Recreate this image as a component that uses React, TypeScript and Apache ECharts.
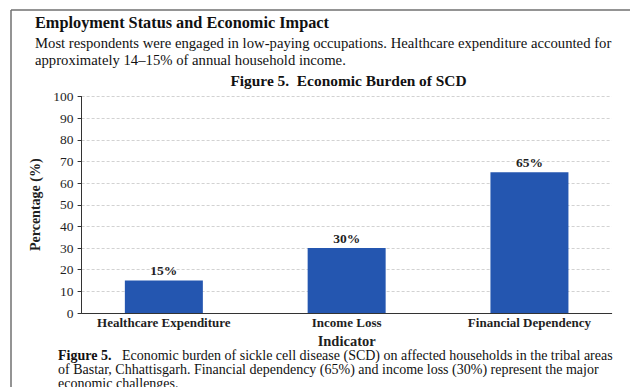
import React, { useEffect, useRef } from "react";
import * as echarts from "echarts";

// Economic burden indicators (percent of households)
const categories: string[] = ["Healthcare Expenditure", "Income Loss", "Financial Dependency"];
const percentages: number[] = [15, 30, 65];
const categoryPositions: number[] = [0, 1, 2];

const headingText = "Employment Status and Economic Impact";
const introLines: string[] = [
  "Most respondents were engaged in low-paying occupations. Healthcare expenditure accounted for",
  "approximately 14\u201315% of annual household income.",
];
const chartTitle = "Figure 5.  Economic Burden of SCD";
const captionLabel = "Figure 5.";
const captionLines: string[] = [
  "Economic burden of sickle cell disease (SCD) on affected households in the tribal areas",
  "of Bastar, Chhattisgarh. Financial dependency (65%) and income loss (30%) represent the major",
  "economic challenges.",
];

const SERIF = "Liberation Serif";
const INK = "#1f1f1f";
const BAR = "#2456b0";

const txt = (text: string, x: number, y: number, size: number, bold = false, align = "left") => ({
  type: "text",
  x,
  y,
  style: {
    text,
    fontFamily: SERIF,
    fontSize: size,
    fontWeight: bold ? "bold" : "normal",
    fill: "#111",
    textAlign: align,
    textVerticalAlign: "middle",
  },
});

export default function App() {
  const ref = useRef<HTMLDivElement>(null);

  useEffect(() => {
    if (!ref.current) return;
    const chart = echarts.init(ref.current, undefined, { renderer: "svg" });

    const option: echarts.EChartsCoreOption = {
      animation: false,
      backgroundColor: "#ffffff",
      grid: { left: 81.6, right: 18.3, top: 96.5, bottom: 74, containLabel: false },
      xAxis: {
        type: "value",
        min: -0.45,
        max: 2.45,
        name: "Indicator",
        nameLocation: "middle",
        nameGap: 11,
        nameTextStyle: { fontFamily: SERIF, fontWeight: "bold", fontSize: 14.5, color: INK },
        axisLine: { show: true, onZero: false, lineStyle: { color: "#333", width: 1 } },
        axisTick: { show: false },
        splitLine: { show: false },
        axisLabel: {
          customValues: categoryPositions,
          formatter: (v: number) => categories[Math.round(v)] ?? "",
          fontFamily: SERIF,
          fontWeight: "bold",
          fontSize: 13,
          color: INK,
          margin: 3,
        },
      },
      yAxis: {
        type: "value",
        min: 0,
        max: 100,
        interval: 10,
        name: "Percentage (%)",
        nameLocation: "middle",
        nameGap: 38,
        nameTextStyle: { fontFamily: SERIF, fontWeight: "bold", fontSize: 14, color: INK },
        axisLine: { show: true, onZero: false, lineStyle: { color: "#333", width: 1 } },
        axisTick: { show: true, length: 4, lineStyle: { color: "#333" } },
        splitLine: { show: true, lineStyle: { color: "#d2d2d2", type: [3, 2], width: 1 } },
        axisLabel: { fontFamily: SERIF, fontSize: 13.5, color: INK, margin: 8 },
      },
      series: [
        {
          type: "bar",
          barWidth: 78,
          data: percentages.map((v, i) => [categoryPositions[i], v]),
          itemStyle: { color: BAR },
          label: {
            show: true,
            position: "top",
            distance: 3,
            formatter: (p: any) => `${p.value[1]}%`,
            fontFamily: SERIF,
            fontWeight: "bold",
            fontSize: 13.5,
            color: INK,
          },
        },
      ],
      graphic: [
        // page frame
        { type: "line", shape: { x1: 11, y1: 10, x2: 640, y2: 10 }, style: { stroke: "#707070", lineWidth: 1.5 } },
        { type: "line", shape: { x1: 11, y1: 10, x2: 11, y2: 400 }, style: { stroke: "#707070", lineWidth: 1.5 } },
        txt(headingText, 35, 22, 16.3, true),
        ...introLines.map((t, i) => txt(t, 35, 43 + i * 17, 14.7)),
        txt(chartTitle, 348.5, 80, 15.4, true, "center"),
        {
          type: "text",
          x: 58,
          y: 355.5,
          style: {
            text: `{b|${captionLabel}}   ${captionLines[0]}`,
            fontFamily: SERIF,
            fontSize: 14,
            fill: "#111",
            textVerticalAlign: "middle",
            rich: { b: { fontFamily: SERIF, fontSize: 14, fontWeight: "bold", fill: "#111" } },
          },
        },
        ...captionLines.slice(1).map((t, i) => txt(t, 58, 369.5 + i * 13.5, 14)),
      ],
    };

    chart.setOption(option);
    return () => chart.dispose();
  }, []);

  return (
    <div
      ref={ref}
      style={{ position: "fixed", left: 0, top: 0, width: 630, height: 387, background: "#fff" }}
    />
  );
}
